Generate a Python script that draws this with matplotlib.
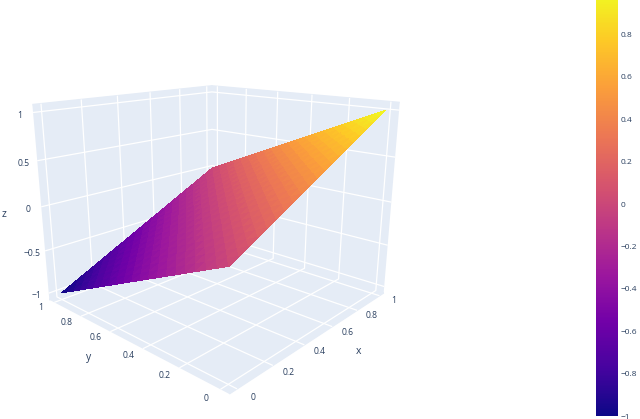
import matplotlib
matplotlib.use('Agg')
import matplotlib.pyplot as plt
import numpy as np
from matplotlib.colors import LinearSegmentedColormap, Normalize

# Data
X_VALUES = [0, .05, .1, .15, .2, .25, .3, .35, .4, .45, .5, .55, .6, .65, .7, .75, .8, .85, .9, .95, 1]
Y_VALUES = [0, .05, .1, .15, .2, .25, .3, .35, .4, .45, .5, .55, .6, .65, .7, .75, .8, .85, .9, .95, 1]
Z_VALUES = [
    [0, .05, .1, .15, .2, .25, .3, .35, .4, .45, .5, .55, .6, .65, .7, .75, .8, .85, .9, .95, 1],
    [-.05, 0, .05, .1, .15, .2, .25, .3, .35, .4, .45, .5, .55, .6, .65, .7, .75, .8, .85, .9, .95],
    [-.1, -.05, 0, .05, .1, .15, .2, .25, .3, .35, .4, .45, .5, .55, .6, .65, .7, .75, .8, .85, .9],
    [-.15, -.1, -.05, 0, .05, .1, .15, .2, .25, .3, .35, .4, .45, .5, .55, .6, .65, .7, .75, .8, .85],
    [-.2, -.15, -.1, -.05, 0, .05, .1, .15, .2, .25, .3, .35, .4, .45, .5, .55, .6, .65, .7, .75, .8],
    [-.25, -.2, -.15, -.1, -.05, 0, .05, .1, .15, .2, .25, .3, .35, .4, .45, .5, .55, .6, .65, .7, .75],
    [-.3, -.25, -.2, -.15, -.1, -.05, 0, .05, .1, .15, .2, .25, .3, .35, .4, .45, .5, .55, .6, .65, .7],
    [-.35, -.3, -.25, -.2, -.15, -.1, -.05, 0, .05, .1, .15, .2, .25, .3, .35, .4, .45, .5, .55, .6, .65],
    [-.4, -.35, -.3, -.25, -.2, -.15, -.1, -.05, 0, .05, .1, .15, .2, .25, .3, .35, .4, .45, .5, .55, .6],
    [-.45, -.4, -.35, -.3, -.25, -.2, -.15, -.1, -.05, 0, .05, .1, .15, .2, .25, .3, .35, .4, .45, .5, .55],
    [-.5, -.45, -.4, -.35, -.3, -.25, -.2, -.15, -.1, -.05, 0, .05, .1, .15, .2, .25, .3, .35, .4, .45, .5],
    [-.55, -.5, -.45, -.4, -.35, -.3, -.25, -.2, -.15, -.1, -.05, 0, .05, .1, .15, .2, .25, .3, .35, .4, .45],
    [-.6, -.55, -.5, -.45, -.4, -.35, -.3, -.25, -.2, -.15, -.1, -.05, 0, .05, .1, .15, .2, .25, .3, .35, .4],
    [-.65, -.6, -.55, -.5, -.45, -.4, -.35, -.3, -.25, -.2, -.15, -.1, -.05, 0, .05, .1, .15, .2, .25, .3, .35],
    [-.7, -.65, -.6, -.55, -.5, -.45, -.4, -.35, -.3, -.25, -.2, -.15, -.1, -.05, 0, .05, .1, .15, .2, .25, .3],
    [-.75, -.7, -.65, -.6, -.55, -.5, -.45, -.4, -.35, -.3, -.25, -.2, -.15, -.1, -.05, 0, .05, .1, .15, .2, .25],
    [-.8, -.75, -.7, -.65, -.6, -.55, -.5, -.45, -.4, -.35, -.3, -.25, -.2, -.15, -.1, -.05, 0, .05, .1, .15, .2],
    [-.85, -.8, -.75, -.7, -.65, -.6, -.55, -.5, -.45, -.4, -.35, -.3, -.25, -.2, -.15, -.1, -.05, 0, .05, .1, .15],
    [-.9, -.85, -.8, -.75, -.7, -.65, -.6, -.55, -.5, -.45, -.4, -.35, -.3, -.25, -.2, -.15, -.1, -.05, 0, .05, .1],
    [-.95, -.9, -.85, -.8, -.75, -.7, -.65, -.6, -.55, -.5, -.45, -.4, -.35, -.3, -.25, -.2, -.15, -.1, -.05, 0, .05],
    [-1, -.95, -.9, -.85, -.8, -.75, -.7, -.65, -.6, -.55, -.5, -.45, -.4, -.35, -.3, -.25, -.2, -.15, -.1, -.05, 0],
]

XY_TICKS = [0, .2, .4, .6, .8, 1]
XY_LABELS = ['0', '0.2', '0.4', '0.6', '0.8', '1']
Z_TICKS = [-1, -.5, 0, .5, 1]
Z_LABELS = ['\u22121', '\u22120.5', '0', '0.5', '1']
BAR_TICKS = [-1, -.8, -.6, -.4, -.2, 0, .2, .4, .6, .8]
BAR_LABELS = ['\u22121', '\u22120.8', '\u22120.6', '\u22120.4', '\u22120.2', '0', '0.2', '0.4', '0.6', '0.8']

PLASMA = ['#0d0887', '#46039f', '#7201a8', '#9c179e', '#bd3786',
          '#d8576b', '#ed7953', '#fb9f3a', '#fdca26', '#f0f921']
PANE = '#E5ECF6'
INK = '#2a3f5f'

plt.rcParams['font.family'] = ['Open Sans', 'DejaVu Sans']

cmap = LinearSegmentedColormap.from_list('plotly_plasma', PLASMA, N=256)
norm = Normalize(-1, 1)

fig = plt.figure(figsize=(6.4, 4.19), dpi=100)
ax = fig.add_axes([(211 - 280) / 640, (419 - 212 - 280) / 419, 560 / 640, 560 / 419], projection='3d')
ax.patch.set_alpha(0)
ax.set_proj_type('persp', focal_length=0.2)
ax.view_init(elev=16.5, azim=-137.7)
ax.set_box_aspect((1, 1, .81), zoom=0.70)

ax.set_xlim(-.04, 1.04, view_margin=0)
ax.set_ylim(-.04, 1.04, view_margin=0)
ax.set_zlim(-1.08, 1.08, view_margin=0)
ax.set_xticks(XY_TICKS)
ax.set_yticks(XY_TICKS)
ax.set_zticks(Z_TICKS)
ax.set_xticklabels([])
ax.set_yticklabels([])
ax.set_zticklabels([])

for axis in (ax.xaxis, ax.yaxis, ax.zaxis):
    axis.set_pane_color(PANE)
    axis.pane.set_edgecolor(PANE)
    axis.line.set_color((1, 1, 1, 0))
    axis._axinfo['grid'].update(color='white', linewidth=0.9)
    axis._axinfo['tick'].update(inward_factor=0, outward_factor=0)

# Split every grid square along its constant-z diagonal so colour runs in clean stripes
n_x, n_y = len(X_VALUES), len(Y_VALUES)
triangles = []
for j in range(n_y - 1):
    for i in range(n_x - 1):
        a = j * n_x + i
        triangles.append([a, a + 1, a + n_x + 1])
        triangles.append([a, a + n_x + 1, a + n_x])

xx, yy = np.meshgrid(X_VALUES, Y_VALUES)
surf = ax.plot_trisurf(xx.ravel(), yy.ravel(), np.array(Z_VALUES).ravel(), triangles=triangles,
                       cmap=cmap, norm=norm, linewidth=0, antialiased=False, shade=False)

# Tick labels sit just outside the cube edges and lean with the perspective
label_style = dict(color=INK, fontsize=6.2, ha='center', va='center')
for t, lab in zip(XY_TICKS, XY_LABELS):
    ax.text(t, -.11, -1.08, lab, rotation=-25, **label_style)
    ax.text(-.11, t, -1.08, lab, rotation=25, **label_style)
for t, lab in zip(Z_TICKS, Z_LABELS):
    ax.text(-.08, 1.08, t - .03, lab, rotation=12, **label_style)
axis_title = dict(color=INK, fontsize=7.5, ha='center', va='center')
ax.text(.5, -.22, -1.08, 'x', **axis_title)
ax.text(-.22, .5, -1.08, 'y', **axis_title)
ax.text(-.155, 1.155, -.08, 'z', **axis_title)

# Colour bar runs off the top of the page in the original
cax = fig.add_axes([596 / 640, 3 / 419, 22 / 640, 424 / 419])
cb = fig.colorbar(surf, cax=cax)
cb.outline.set_visible(False)
cb.set_ticks(BAR_TICKS, labels=BAR_LABELS)
cb.ax.tick_params(length=0, pad=2, labelsize=6, labelcolor=INK)

fig.savefig('out.png', dpi=100)
